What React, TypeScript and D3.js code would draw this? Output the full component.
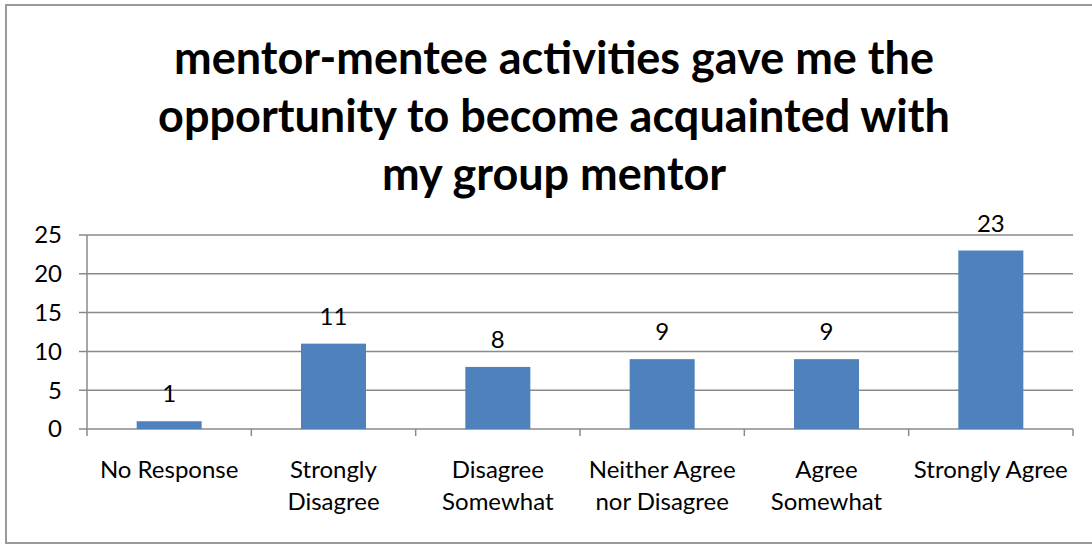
import React from "react";
import * as d3 from "d3";

const categories: string[][] = [
  ["No Response"],
  ["Strongly", "Disagree"],
  ["Disagree", "Somewhat"],
  ["Neither Agree", "nor Disagree"],
  ["Agree", "Somewhat"],
  ["Strongly Agree"],
];
const values: number[] = [1, 11, 8, 9, 9, 23];
const yTicks: number[] = [0, 5, 10, 15, 20, 25];
const titleLines: string[] = [
  "mentor-mentee activities gave me the",
  "opportunity to become acquainted with",
  "my group mentor",
];

const W = 1092;
const H = 546;
const font = "Lato, Carlito, 'Liberation Sans', sans-serif";

export default function App() {
  const left = 87, right = 1073, top = 235, bottom = 429;
  const keys = categories.map((c) => c.join(" "));
  const xb = d3.scaleBand<string>().domain(keys).range([left, right]);
  const y = d3.scaleLinear().domain([0, 25]).range([bottom, top]);
  const bw = 65;

  return (
    <svg width={W} height={H} style={{ position: "absolute", left: 0, top: 0 }}>
      <rect x={0} y={0} width={W} height={H} fill="#fff" />
      <rect x={6} y={5} width={W} height={538} fill="#fff" stroke="#9a9a9a" strokeWidth={2} />
      {titleLines.map((t, i) => (
        <text key={i} x={554} y={74 + i * 58} textAnchor="middle" fontFamily={font} fontWeight="bold" fontSize={45} fill="#000">
          {t}
        </text>
      ))}
      {yTicks.map((t) => (
        <g key={t}>
          <line x1={79} x2={right} y1={y(t)} y2={y(t)} stroke="#8a8a8a" strokeWidth={1.5} />
          <text x={62} y={y(t)} dy="0.35em" textAnchor="end" fontFamily={font} fontSize={24} fill="#000">
            {t}
          </text>
        </g>
      ))}
      <line x1={left} x2={left} y1={top} y2={bottom + 7} stroke="#8a8a8a" strokeWidth={1.5} />
      {keys.map((k) => (
        <line key={k} x1={(xb(k) as number) + xb.bandwidth()} x2={(xb(k) as number) + xb.bandwidth()} y1={bottom} y2={bottom + 7} stroke="#8a8a8a" strokeWidth={1.5} />
      ))}
      {keys.map((k, i) => {
        const cx = (xb(k) as number) + xb.bandwidth() / 2;
        return (
          <g key={k}>
            <rect x={cx - bw / 2} y={y(values[i])} width={bw} height={bottom - y(values[i])} fill="#4F81BD" />
            <text x={cx} y={y(values[i]) - 19} textAnchor="middle" fontFamily={font} fontSize={24} fill="#000">
              {values[i]}
            </text>
            {categories[i].map((line, j) => (
              <text key={j} x={cx} y={478 + j * 32} textAnchor="middle" fontFamily={font} fontSize={24} fill="#000">
                {line}
              </text>
            ))}
          </g>
        );
      })}
    </svg>
  );
}
